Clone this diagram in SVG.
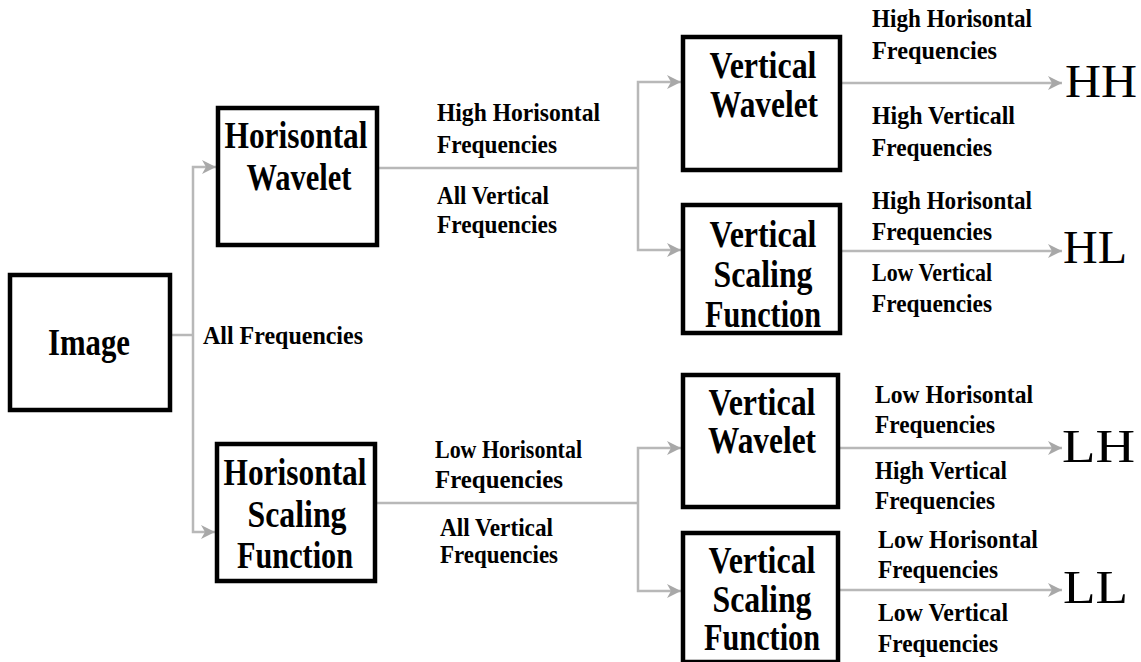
<svg xmlns="http://www.w3.org/2000/svg" width="1141" height="662" viewBox="0 0 1141 662">
<style>
.box{fill:#fff;stroke:#000;stroke-width:4.5}
.nt{font-family:"Liberation Serif","Times New Roman",serif;font-weight:bold;font-size:38px;fill:#000;text-anchor:middle}
.lb{font-family:"Liberation Serif","Times New Roman",serif;font-weight:bold;font-size:26px;fill:#000}
.out{font-family:"Liberation Serif","Times New Roman",serif;font-size:46px;fill:#000}
.cn{fill:none;stroke:#b8b8b8;stroke-width:2.5}
</style>
<defs>
<marker id="ah" markerUnits="userSpaceOnUse" markerWidth="16" markerHeight="16" viewBox="0 0 16 16" refX="15" refY="8" orient="auto">
<path d="M1,1 L15,8 L1,15 L5,8 Z" fill="#a8a8a8"/>
</marker>
</defs>
<rect width="1141" height="662" fill="#fff"/>
<g id="connectors">
<path class="cn" d="M170,335 H193"/>
<path class="cn" d="M193,335 V167 H216" marker-end="url(#ah)"/>
<path class="cn" d="M193,335 V532 H215" marker-end="url(#ah)"/>
<path class="cn" d="M377,168 H638"/>
<path class="cn" d="M638,168 V82 H681" marker-end="url(#ah)"/>
<path class="cn" d="M638,168 V250 H681" marker-end="url(#ah)"/>
<path class="cn" d="M375,503 H638"/>
<path class="cn" d="M638,503 V448 H681" marker-end="url(#ah)"/>
<path class="cn" d="M638,503 V591 H681" marker-end="url(#ah)"/>
<path class="cn" d="M840,83 H1062" marker-end="url(#ah)"/>
<path class="cn" d="M840,251 H1062" marker-end="url(#ah)"/>
<path class="cn" d="M838,448 H1062" marker-end="url(#ah)"/>
<path class="cn" d="M838,590 H1062" marker-end="url(#ah)"/>
</g>
<g id="image">
<rect class="box" x="10" y="275" width="160" height="135"/>
<text class="nt" x="89" y="355" font-size="33" textLength="82" lengthAdjust="spacingAndGlyphs">Image</text>
</g>
<g id="h-wavelet">
<rect class="box" x="218" y="108" width="159" height="137"/>
<text class="nt" x="296" y="148" textLength="143" lengthAdjust="spacingAndGlyphs">Horisontal</text>
<text class="nt" x="299" y="190" textLength="105" lengthAdjust="spacingAndGlyphs">Wavelet</text>
</g>
<g id="h-scaling">
<rect class="box" x="217" y="444" width="158" height="137"/>
<text class="nt" x="295" y="485" textLength="143" lengthAdjust="spacingAndGlyphs">Horisontal</text>
<text class="nt" x="297" y="527" textLength="99" lengthAdjust="spacingAndGlyphs">Scaling</text>
<text class="nt" x="295" y="568" textLength="116" lengthAdjust="spacingAndGlyphs">Function</text>
</g>
<g id="v-wavelet-1">
<rect class="box" x="683" y="37" width="157" height="133"/>
<text class="nt" x="763" y="78" textLength="107" lengthAdjust="spacingAndGlyphs">Vertical</text>
<text class="nt" x="764" y="117" textLength="108" lengthAdjust="spacingAndGlyphs">Wavelet</text>
</g>
<g id="v-scaling-1">
<rect class="box" x="683" y="205" width="157" height="128"/>
<text class="nt" x="763" y="247" textLength="107" lengthAdjust="spacingAndGlyphs">Vertical</text>
<text class="nt" x="763" y="287" textLength="99" lengthAdjust="spacingAndGlyphs">Scaling</text>
<text class="nt" x="763" y="327" textLength="116" lengthAdjust="spacingAndGlyphs">Function</text>
</g>
<g id="v-wavelet-2">
<rect class="box" x="683" y="375" width="155" height="132"/>
<text class="nt" x="762" y="415" textLength="107" lengthAdjust="spacingAndGlyphs">Vertical</text>
<text class="nt" x="762" y="453" textLength="108" lengthAdjust="spacingAndGlyphs">Wavelet</text>
</g>
<g id="v-scaling-2">
<rect class="box" x="683" y="533" width="155" height="129"/>
<text class="nt" x="762" y="573" textLength="107" lengthAdjust="spacingAndGlyphs">Vertical</text>
<text class="nt" x="762" y="612" textLength="99" lengthAdjust="spacingAndGlyphs">Scaling</text>
<text class="nt" x="762" y="650" textLength="116" lengthAdjust="spacingAndGlyphs">Function</text>
</g>
<g id="labels">
<text class="lb" x="203" y="344" textLength="160" lengthAdjust="spacingAndGlyphs">All Frequencies</text>
<text class="lb" x="437" y="121" textLength="163" lengthAdjust="spacingAndGlyphs">High Horisontal</text>
<text class="lb" x="437" y="153" textLength="120" lengthAdjust="spacingAndGlyphs">Frequencies</text>
<text class="lb" x="437" y="204" textLength="112" lengthAdjust="spacingAndGlyphs">All Vertical</text>
<text class="lb" x="437" y="233" textLength="120" lengthAdjust="spacingAndGlyphs">Frequencies</text>
<text class="lb" x="435" y="458" textLength="147" lengthAdjust="spacingAndGlyphs">Low Horisontal</text>
<text class="lb" x="435" y="488" textLength="128" lengthAdjust="spacingAndGlyphs">Frequencies</text>
<text class="lb" x="440" y="536" textLength="113" lengthAdjust="spacingAndGlyphs">All Vertical</text>
<text class="lb" x="440" y="563" textLength="118" lengthAdjust="spacingAndGlyphs">Frequencies</text>
<text class="lb" x="872" y="27" textLength="160" lengthAdjust="spacingAndGlyphs">High Horisontal</text>
<text class="lb" x="872" y="59" textLength="125" lengthAdjust="spacingAndGlyphs">Frequencies</text>
<text class="lb" x="872" y="124" textLength="143" lengthAdjust="spacingAndGlyphs">High Verticall</text>
<text class="lb" x="872" y="156" textLength="120" lengthAdjust="spacingAndGlyphs">Frequencies</text>
<text class="lb" x="872" y="209" textLength="160" lengthAdjust="spacingAndGlyphs">High Horisontal</text>
<text class="lb" x="872" y="240" textLength="120" lengthAdjust="spacingAndGlyphs">Frequencies</text>
<text class="lb" x="872" y="281" textLength="120" lengthAdjust="spacingAndGlyphs">Low Vertical</text>
<text class="lb" x="872" y="312" textLength="120" lengthAdjust="spacingAndGlyphs">Frequencies</text>
<text class="lb" x="875" y="403" textLength="158" lengthAdjust="spacingAndGlyphs">Low Horisontal</text>
<text class="lb" x="875" y="433" textLength="120" lengthAdjust="spacingAndGlyphs">Frequencies</text>
<text class="lb" x="875" y="479" textLength="132" lengthAdjust="spacingAndGlyphs">High Vertical</text>
<text class="lb" x="875" y="509" textLength="120" lengthAdjust="spacingAndGlyphs">Frequencies</text>
<text class="lb" x="878" y="548" textLength="160" lengthAdjust="spacingAndGlyphs">Low Horisontal</text>
<text class="lb" x="878" y="578" textLength="120" lengthAdjust="spacingAndGlyphs">Frequencies</text>
<text class="lb" x="878" y="621" textLength="130" lengthAdjust="spacingAndGlyphs">Low Vertical</text>
<text class="lb" x="878" y="652" textLength="120" lengthAdjust="spacingAndGlyphs">Frequencies</text>
</g>
<g id="outputs">
<text class="out" x="1065" y="97" textLength="72" lengthAdjust="spacingAndGlyphs">HH</text>
<text class="out" x="1063" y="263" textLength="64" lengthAdjust="spacingAndGlyphs">HL</text>
<text class="out" x="1062" y="462" textLength="73" lengthAdjust="spacingAndGlyphs">LH</text>
<text class="out" x="1063" y="603" textLength="65" lengthAdjust="spacingAndGlyphs">LL</text>
</g>
</svg>
